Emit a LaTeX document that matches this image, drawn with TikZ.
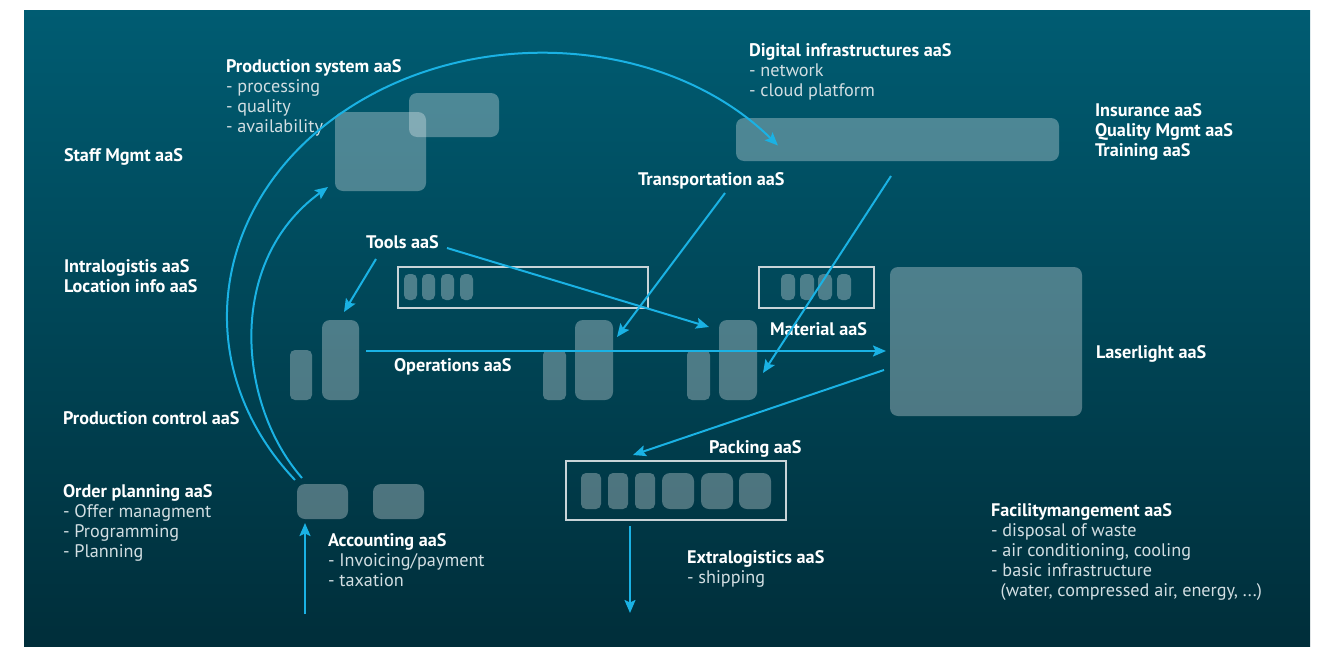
\documentclass[tikz,border=0pt]{standalone}
\usepackage{fontspec}
\setmainfont{PT Sans}
\usetikzlibrary{arrows.meta}
\definecolor{bgtop}{RGB}{0,92,114}
\definecolor{bgbot}{RGB}{0,46,58}
\definecolor{cyanl}{RGB}{26,178,228}
\definecolor{framec}{RGB}{200,212,216}
\definecolor{itemc}{RGB}{210,222,226}
\newcommand{\itm}{\mdseries\color{itemc}}
\newcommand{\rbox}[6][blk]{\node[#1, anchor=north west, minimum width={(#5-#3)*1pt}, minimum height={(#6-#4)*1pt}] (#2) at (#3,#4) {};}
\tikzset{
  blk/.style={fill=white, fill opacity=0.3, rounded corners=5pt, inner sep=0pt, outer sep=0pt},
  bigblk/.style={blk, rounded corners=8pt},
  frame/.style={draw=framec, line width=1.2pt, inner sep=0pt, outer sep=0pt},
  arr/.style={draw=cyanl, line width=2pt, -{Stealth[length=13pt,width=11pt,inset=2.5pt]}},
  head/.style={anchor=base west, inner sep=0pt, outer sep=0pt, text=white, align=left,
    font=\fontsize{18.2}{20}\selectfont\bfseries},
}
\begin{document}
\begin{tikzpicture}[x=1pt,y=-1pt]
\useasboundingbox (0,0) rectangle (1328,648);
\fill[white] (0,0) rectangle (1328,648);
\fill[top color=bgtop,bottom color=bgbot] (24,10) rectangle (1310,646);

% production system blocks
\rbox[bigblk]{ps1}{335}{112}{426}{191}
\rbox[bigblk]{ps2}{409}{93}{499}{137}
% digital infra bar
\rbox[bigblk]{dig}{736}{118}{1059}{161}
% frames with small boxes
\rbox[frame]{fr1}{398}{267}{648}{308}
\rbox{f1a}{404}{274}{417}{300}
\rbox{f1b}{422}{274}{435}{300}
\rbox{f1c}{441}{274}{454}{300}
\rbox{f1d}{460}{274}{473}{300}
\rbox[frame]{fr2}{759}{267}{874}{308}
\rbox{f2a}{781}{274}{795}{300}
\rbox{f2b}{800}{274}{814}{300}
\rbox{f2c}{818}{274}{832}{300}
\rbox{f2d}{837}{274}{851}{300}
% machines
\rbox{m1s}{290}{350}{312}{400}
\rbox[bigblk]{m1t}{322}{320}{359}{400}
\rbox{m2s}{543}{350}{566}{400}
\rbox[bigblk]{m2t}{575}{320}{613}{400}
\rbox{m3s}{687}{350}{710}{400}
\rbox[bigblk]{m3t}{719}{320}{757}{400}
% laser
\rbox[bigblk]{laser}{890}{267}{1082}{416}
% packing
\rbox[frame]{pack}{566}{461}{786}{520}
\rbox{p1}{581}{473}{601}{509}
\rbox{p2}{608}{473}{628}{509}
\rbox{p3}{635}{473}{655}{509}
\rbox[bigblk]{p4}{662}{473}{694}{509}
\rbox[bigblk]{p5}{701}{473}{733}{509}
\rbox[bigblk]{p6}{739}{473}{771}{509}
% accounting
\rbox[bigblk]{acc1}{297}{484}{348}{519}
\rbox[bigblk]{acc2}{373}{484}{424}{519}

% texts (base anchor = baseline of the last line)
\node[head] (pst) at (226,132) {Production system aaS\\\itm - processing\\\itm - quality\\\itm - availability};
\node[head] (staff) at (64,161) {Staff Mgmt aaS};
\node[head] (digt) at (749,96) {Digital infrastructures aaS\\\itm - network\\\itm - cloud platform};
\node[head] (ins) at (1095,156) {Insurance aaS\\Quality Mgmt aaS\\Training aaS};
\node[head] (trans) at (638,185) {Transportation aaS};
\node[head] (tools) at (366,248) {Tools aaS};
\node[head] (intra) at (64,292) {Intralogistis aaS\\Location info aaS};
\node[head] (mat) at (770,335) {Material aaS};
\node[head] (ops) at (394,371) {Operations aaS};
\node[head] (lasert) at (1096,358) {Laserlight aaS};
\node[head] (pc) at (63,424) {Production control aaS};
\node[head] (packt) at (709,453) {Packing aaS};
\node[head] (order) at (63,557) {Order planning aaS\\\itm - Offer managment\\\itm - Programming\\\itm - Planning};
\node[head] (acct) at (328,586) {Accounting aaS\\\itm - Invoicing/payment\\\itm - taxation};
\node[head] (extra) at (687,583) {Extralogistics aaS\\\itm - shipping};
\node[head] (fac) at (991,596) {Facilitymangement aaS\\\itm - disposal of waste\\\itm - air conditioning, cooling\\\itm - basic infrastructure\\\itm \ \ (water, compressed air, energy, ...)};

% arrow end coordinates
\coordinate (tA0) at (376,259); \coordinate (tA1) at (344,312);
\coordinate (tB0) at (447,248); \coordinate (tB1) at (709,327);
\coordinate (tr0) at (725,193); \coordinate (tr1) at (617,337);
\coordinate (dg0) at (891,176); \coordinate (dg1) at (763,373);
\coordinate (op0) at (366,351); \coordinate (op1) at (886,351);
\coordinate (pk0) at (884,370); \coordinate (pk1) at (633,455);
\coordinate (ex0) at (630,526); \coordinate (ex1) at (630,613);
\coordinate (ac0) at (305,614); \coordinate (ac1) at (305,523);
\coordinate (arcO) at (295,480);
\coordinate (arcI0) at (302,478); \coordinate (arcI1) at (328,187);

\draw[arr] (tA0) -- (tA1);
\draw[arr] (tB0) -- (tB1);
\draw[arr] (tr0) -- (tr1);
\draw[arr] (dg0) -- (dg1);
\draw[arr] (op0) -- (op1);
\draw[arr] (pk0) -- (pk1);
\draw[arr] (ex0) -- (ex1);
\draw[arr] (ac0) -- (ac1);
\draw[arr] (arcO) arc[start angle=141.5, end angle=319.5, x radius=313, y radius=263];
\draw[arr] (arcI0) .. controls (238,405) and (225,262) .. (arcI1);
\end{tikzpicture}
\end{document}
